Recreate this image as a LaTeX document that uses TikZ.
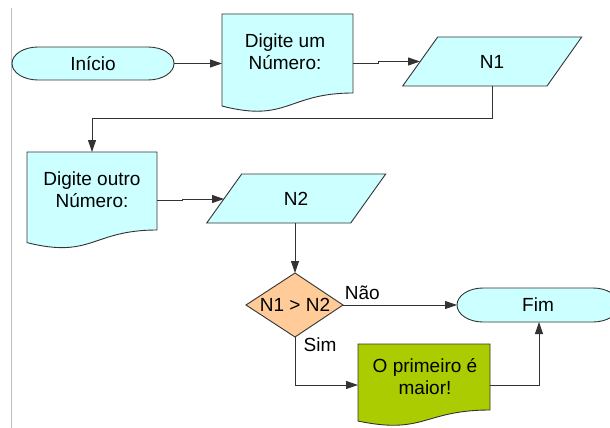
\documentclass[tikz,border=0pt]{standalone}
\usepackage{fontspec}
\setmainfont{Liberation Sans}
\usetikzlibrary{arrows.meta}
\definecolor{cyanfill}{HTML}{CCFFFF}
\definecolor{peach}{HTML}{FFCC99}
\definecolor{lime}{RGB}{170,204,0}
\definecolor{edge}{HTML}{333333}
\tikzset{
  shapeline/.style={draw=edge, line width=0.9pt},
  conn/.style={draw=edge, line width=0.9pt, -{Triangle[length=12pt,width=8pt]}},
  plainconn/.style={draw=edge, line width=0.9pt},
  lbl/.style={font=\fontsize{19}{22}\selectfont, align=center, inner sep=0pt},
}
\begin{document}
\begin{tikzpicture}[x=1pt,y=-1pt]
\useasboundingbox (0,0) rectangle (610,428);
% left margin line
\draw[color=black!25, line width=1pt] (11.5,8) -- (11.5,428);

% Inicio terminator
\path[shapeline, fill=cyanfill] (38,47) -- (148,47) .. controls (162.4,47) and (174,54.4) .. (174,63.5) .. controls (174,72.6) and (162.4,80) .. (148,80) -- (38,80) .. controls (23.6,80) and (12,72.6) .. (12,63.5) .. controls (12,54.4) and (23.6,47) .. (38,47) -- cycle;
\node[lbl] (inicio) at (93,63.5) {Início};
\coordinate (inicioE) at (174,63.5);

% Document 1
\path[shapeline, fill=cyanfill] (222,14) -- (353,14) -- (353,93) .. controls (287.5,93) and (287.5,123) .. (222,106) -- cycle;
\node[lbl] (doc1) at (285,52) {Digite um\\Número:};
\coordinate (doc1W) at (222,63.5);
\coordinate (doc1E) at (353,63);

% N1 parallelogram
\path[shapeline, fill=cyanfill] (437.7,37) -- (581.7,37) -- (547,86) -- (402.7,86) -- cycle;
\node[lbl] (n1) at (492,61.5) {N1};
\coordinate (n1W) at (420,61.5);
\coordinate (n1S) at (492,86);

% Document 2
\path[shapeline, fill=cyanfill] (27,152) -- (157,152) -- (157,230) .. controls (92,230) and (92,259) .. (27,242.6) -- cycle;
\node[lbl] (doc2) at (92,190) {Digite outro\\Número:};
\coordinate (doc2N) at (92,152);
\coordinate (doc2E) at (157,200);

% N2 parallelogram
\path[shapeline, fill=cyanfill] (241.7,174) -- (385.7,174) -- (350.7,223) -- (206.7,223) -- cycle;
\node[lbl] (n2) at (296,198.5) {N2};
\coordinate (n2W) at (224,199);
\coordinate (n2S) at (295,223);

% Decision
\path[shapeline, fill=peach] (295,273) -- (343,305) -- (295,337) -- (246,305) -- cycle;
\node[lbl] (dec) at (295,305) {N1 > N2};
\coordinate (decN) at (295,273);
\coordinate (decE) at (343,305);
\coordinate (decS) at (295,337);

% Fim terminator
\path[shapeline, fill=cyanfill] (483,288) -- (593,288) .. controls (607.4,288) and (619,295.6) .. (619,305) .. controls (619,314.4) and (607.4,322) .. (593,322) -- (483,322) .. controls (468.6,322) and (457,314.4) .. (457,305) .. controls (457,295.6) and (468.6,288) .. (483,288) -- cycle;
\node[lbl] (fim) at (538,305) {Fim};
\coordinate (fimW) at (457,305);
\coordinate (fimS) at (539,322);

% Document 3
\path[shapeline, fill=lime] (358,344) -- (490,344) -- (490,410) .. controls (424,410) and (424,435) .. (358,421) -- cycle;
\node[lbl] (doc3) at (425,377) {O primeiro é\\maior!};
\coordinate (doc3W) at (358,385);
\coordinate (doc3E) at (490,385);

% Connectors
\draw[conn] (inicioE) -- (doc1W);
\draw[conn] (doc1E) -- (378,63) -- (378,61.5) -- (n1W);
\draw[conn] (n1S) -- (492,118) -- (92,118) -- (doc2N);
\draw[conn] (doc2E) -- (182,200) -- (182,199) -- (n2W);
\draw[conn] (n2S) -- (decN);
\draw[conn] (decE) -- node[lbl, pos=0.17, above=5pt] (nao) {Não} (fimW);
\draw[conn] (decS) -- (295,385) -- (doc3W);
\node[lbl] (sim) at (320,345) {Sim};
\draw[conn] (doc3E) -- (539,385) -- (fimS);
\end{tikzpicture}
\end{document}
